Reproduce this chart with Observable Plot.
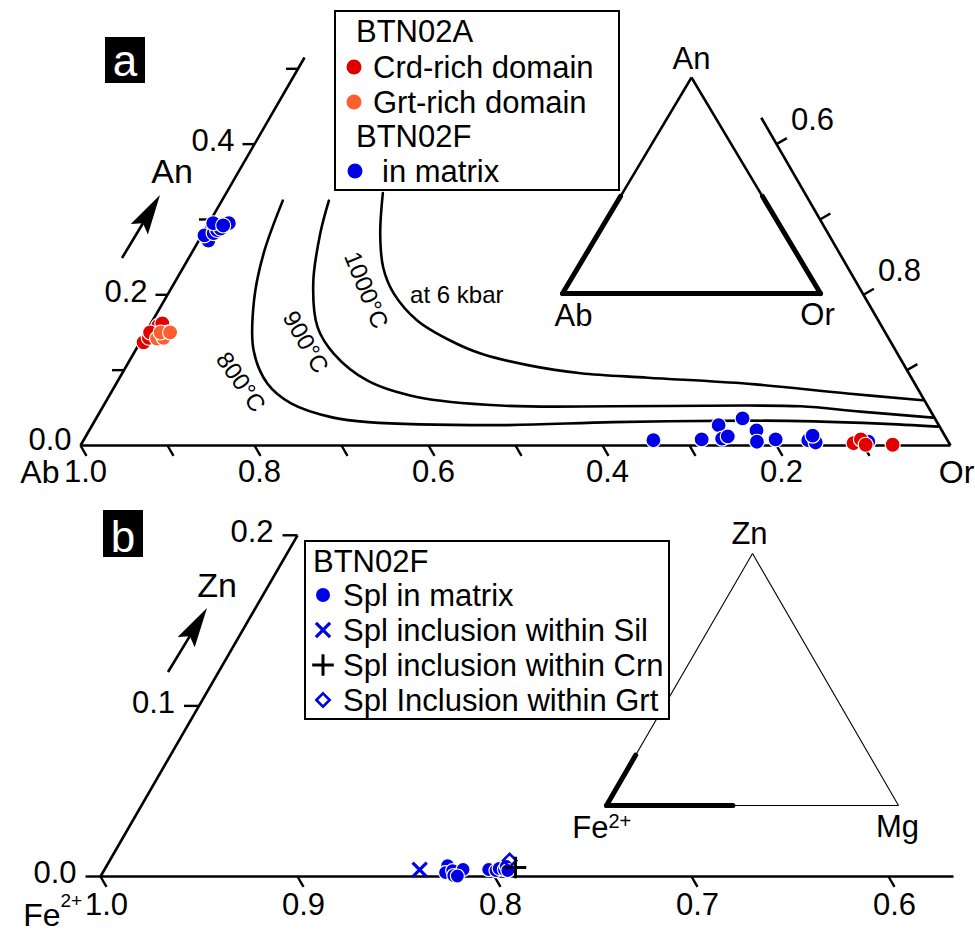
<!DOCTYPE html>
<html><head><meta charset="utf-8">
<script src="https://cdn.jsdelivr.net/npm/d3@7"></script>
<script src="https://cdn.jsdelivr.net/npm/@observablehq/plot@0.6"></script>
<style>
html,body{margin:0;padding:0;background:#fff;}
#chart{width:975px;}
#chart svg{display:block;}
</style></head><body><div id="chart"></div>
<script>
// ===================== DATA =====================
// Panel a: feldspar ternary Ab–An–Or (mole fractions An, Or; Ab = 1 - An - Or)
const crdAn = [0.137, 0.143, 0.149, 0.159, 0.162, 0.150, 0.003, 0.008, 0.001, 0.001];
const crdOr = [0.004, 0.007, 0.009, 0.010, 0.013, 0.005, 0.887, 0.893, 0.902, 0.933];
const grtAn = [0.142, 0.150, 0.143, 0.150, 0.150];
const grtOr = [0.017, 0.025, 0.024, 0.017, 0.028];
const matAn = [0.272, 0.279, 0.282, 0.286, 0.288, 0.295, 0.295, 0.292,
               0.007, 0.008, 0.027, 0.009, 0.012, 0.036, 0.020, 0.005, 0.008, 0.007, 0.004, 0.013, 0.005];
const matOr = [0.011, 0.003, 0.012, 0.014, 0.017, 0.023, 0.005, 0.018,
               0.655, 0.710, 0.720, 0.733, 0.738, 0.743, 0.767, 0.775, 0.795, 0.833, 0.843, 0.835, 0.903];

// Solvus isotherms at 6 kbar
const c800Or = [0.070, 0.083, 0.103, 0.136, 0.174, 0.214, 0.272, 0.315, 0.470, 0.597, 0.750, 0.827, 0.905, 0.973];
const c800An = [0.325, 0.255, 0.193, 0.126, 0.082, 0.056, 0.037, 0.031, 0.027, 0.031, 0.033, 0.032, 0.029, 0.025];
const c900Or = [0.123, 0.135, 0.160, 0.194, 0.230, 0.287, 0.356, 0.456, 0.587, 0.740, 0.802, 0.874, 0.961];
const c900An = [0.325, 0.281, 0.215, 0.157, 0.122, 0.086, 0.064, 0.053, 0.052, 0.053, 0.052, 0.045, 0.037];
const c1000Or = [0.180, 0.204, 0.230, 0.259, 0.304, 0.356, 0.399, 0.464, 0.527, 0.607, 0.726, 0.847, 0.938];
const c1000An = [0.335, 0.281, 0.236, 0.202, 0.166, 0.139, 0.122, 0.106, 0.096, 0.090, 0.082, 0.069, 0.060];
const isoLabels = ["800°C", "900°C", "1000°C", "at 6 kbar"];
const isoLabelOr = [0.142, 0.190, 0.225, 0.333];
const isoLabelAn = [0.084, 0.137, 0.206, 0.199];
const isoLabelRot = [55, 60, 68, 0];

// Panel a axes
const abTicks = [1.0, 0.9, 0.8, 0.7, 0.6, 0.5, 0.4, 0.3, 0.2, 0.1];
const abLabels = [1.0, 0.8, 0.6, 0.4, 0.2];
const anTicks = [0.1, 0.2, 0.3, 0.4, 0.5];
const anLabels = [0.2, 0.4];
const orTicks = [0.6, 0.7, 0.8, 0.9];
const orLabels = [0.6, 0.8];
const anAxisMax = 0.515, orAxisMinAn = 0.435;

// Panel b: spinel ternary Fe2+–Zn–Mg
const splMatZn = [0.0064, 0.0023, 0.0035, 0.0041, 0.0006, 0.0003, 0.0041, 0.0035, 0.0047, 0.0041, 0.0059, 0.0035];
const splMatMg = [0.173, 0.174, 0.177, 0.182, 0.179, 0.181, 0.195, 0.199, 0.200, 0.203, 0.203, 0.205];
const splSilZn = [0.004];
const splSilMg = [0.160];
const splCrnZn = [0.0053];
const splCrnMg = [0.208];
const splGrtZn = [0.0094];
const splGrtMg = [0.203];
const feTicks = [1.0, 0.9, 0.8, 0.7, 0.6];
const znTicks = [0.0, 0.1, 0.2];
const mgAxisMax = 0.433, znAxisMax = 0.2;

// colours
const BLUE = "#0000e6", RED = "#e00000", ORANGE = "#ff5f2e";
const FONT = "'Liberation Sans', Arial, Helvetica, sans-serif";
const FS = 31;
const fmt = d3.format(".1f");
const SQ = Math.sqrt(3) / 2;

// helpers
const lerp = (p, q, f) => ({x: p.x + (q.x - p.x) * f, y: p.y + (q.y - p.y) * f});
const seg = (p, q) => ({x1: p.x, y1: p.y, x2: q.x, y2: q.y});
function insetVerts(I) {
  return {L: {x: I.ox, y: I.oy}, R: {x: I.ox + I.sx, y: I.oy}, T: {x: I.ox + I.sx / 2, y: I.oy + I.sy}};
}

// ===================== PANEL A =====================
const A = {x0: 80, y0: 445, side: 870, h: 490};
const kxA = A.side, kyA = A.side * SQ;
const tA = (or, an) => ({x: or + an / 2, y: an});
const zipA = (ans, ors) => ans.map((an, i) => tA(ors[i], an));

const insetA = {ox: (562 - A.x0) / kxA, oy: (A.y0 - 293) / kyA, sx: 258 / kxA, sy: 216 / kyA, thick: 0.45};
const iA = insetVerts(insetA);
const iAthin = [seg(lerp(iA.L, iA.T, insetA.thick), iA.T), seg(lerp(iA.R, iA.T, insetA.thick), iA.T)];
const iAthick = [seg(iA.L, iA.R), seg(iA.L, lerp(iA.L, iA.T, insetA.thick)), seg(iA.R, lerp(iA.R, iA.T, insetA.thick))];

const edgesA = [
  {x1: 0, y1: 0, x2: 1, y2: 0},
  {x1: 0, y1: 0, x2: anAxisMax / 2, y2: anAxisMax},
  {x1: 1, y1: 0, x2: 1 - orAxisMinAn / 2, y2: orAxisMinAn}
];
const ticksA = [
  ...abTicks.map(ab => ({x1: 1 - ab, y1: 0, x2: 1 - ab + 6 / kxA, y2: -10.4 / kyA})),
  ...anTicks.map(an => ({x1: an / 2, y1: an, x2: an / 2 - 12 / kxA, y2: an})),
  ...orTicks.map(o => { const t = 1 - o; return {x1: 1 - t / 2, y1: t, x2: 1 - t / 2 + 10.4 / kxA, y2: t + 6 / kyA}; })
];
const isoA = isoLabels.map((s, i) => ({...tA(isoLabelOr[i], isoLabelAn[i]), s, r: isoLabelRot[i]}));

const plotA = Plot.plot({
  width: 975, height: A.h,
  style: {fontFamily: FONT, background: "white", overflow: "visible"},
  x: {domain: [0, 1], range: [A.x0, A.x0 + A.side], axis: null},
  y: {domain: [0, 1], range: [A.y0, A.y0 - kyA], axis: null},
  marks: [
    Plot.link(edgesA, {x1: "x1", y1: "y1", x2: "x2", y2: "y2", stroke: "black", strokeWidth: 2.6}),
    Plot.link(ticksA, {x1: "x1", y1: "y1", x2: "x2", y2: "y2", stroke: "black", strokeWidth: 2.4}),
    Plot.text(abLabels, {x: d => 1 - d, y: 0, text: d => fmt(d), dx: 5, dy: 27, fontSize: FS}),
    Plot.text(["Ab"], {x: 0, y: 0, text: d => d, dx: -21, dy: 27, textAnchor: "end", fontSize: 32}),
    Plot.text(["Or"], {x: 1, y: 0, text: d => d, dx: 6, dy: 27, fontSize: 32}),
    Plot.text([0], {x: 0, y: 0, text: d => fmt(d), dx: -9, dy: -5, textAnchor: "end", fontSize: FS}),
    Plot.text(anLabels, {x: d => d / 2, y: d => d, text: d => fmt(d), dx: -20, dy: -3, textAnchor: "end", fontSize: FS}),
    Plot.text(orLabels, {x: d => 1 - (1 - d) / 2, y: d => 1 - d, text: d => fmt(d), dx: 36, dy: -24, fontSize: FS}),
    Plot.line(zipA(c800An, c800Or), {x: "x", y: "y", curve: "catmull-rom", stroke: "black", strokeWidth: 2.6}),
    Plot.line(zipA(c900An, c900Or), {x: "x", y: "y", curve: "catmull-rom", stroke: "black", strokeWidth: 2.6}),
    Plot.line(zipA(c1000An, c1000Or), {x: "x", y: "y", curve: "catmull-rom", stroke: "black", strokeWidth: 2.6}),
    Plot.text(isoA.slice(0, 3), {x: "x", y: "y", text: "s", rotate: d => d.r, fontSize: 24}),
    Plot.text(isoA.slice(3), {x: "x", y: "y", text: "s", fontSize: 24}),
    Plot.link(iAthin, {x1: "x1", y1: "y1", x2: "x2", y2: "y2", stroke: "black", strokeWidth: 2.5}),
    Plot.link(iAthick, {x1: "x1", y1: "y1", x2: "x2", y2: "y2", stroke: "black", strokeWidth: 5, strokeLinecap: "round"}),
    Plot.text(["An"], {x: iA.T.x, y: iA.T.y, text: d => d, dy: -18, fontSize: 31}),
    Plot.text(["Ab"], {x: iA.L.x, y: iA.L.y, text: d => d, dx: 11, dy: 23, fontSize: 31}),
    Plot.text(["Or"], {x: iA.R.x, y: iA.R.y, text: d => d, dx: -3, dy: 22, fontSize: 31}),
    Plot.dot(zipA(matAn, matOr), {x: "x", y: "y", r: 7.5, fill: BLUE, stroke: "white", strokeWidth: 1.2}),
    Plot.dot(zipA(crdAn, crdOr), {x: "x", y: "y", r: 7.5, fill: RED, stroke: "white", strokeWidth: 1.2}),
    Plot.dot(zipA(grtAn, grtOr), {x: "x", y: "y", r: 7.5, fill: ORANGE, stroke: "white", strokeWidth: 1.2})
  ]
});

// ===================== PANEL B =====================
const B = {x0: 100, y0: 386, side: 1970, h: 441};
const kxB = B.side, kyB = B.side * SQ;
const tB = (mg, zn) => ({x: mg + zn / 2, y: zn});
const zipB = (zns, mgs) => zns.map((zn, i) => tB(mgs[i], zn));

const insetB = {ox: (606 - B.x0) / kxB, oy: (B.y0 - 315) / kyB, sx: 292 / kxB, sy: 252 / kyB};
const iB = insetVerts(insetB);
const fracMg = mgAxisMax, fracZn = znAxisMax; // thick parts = zoomed ranges
const iBthin = [seg(iB.L, iB.R), seg(iB.L, iB.T), seg(iB.R, iB.T)];
const iBthick = [seg(iB.L, lerp(iB.L, iB.R, fracMg)), seg(iB.L, lerp(iB.L, iB.T, fracZn))];

const edgesB = [
  {x1: 0, y1: 0, x2: mgAxisMax, y2: 0},
  {x1: 0, y1: 0, x2: znAxisMax / 2, y2: znAxisMax}
];
const ticksB = [
  ...feTicks.map(fe => ({x1: 1 - fe, y1: 0, x2: 1 - fe + 6 / kxB, y2: -10.4 / kyB})),
  ...znTicks.map(zn => ({x1: zn / 2, y1: zn, x2: zn / 2 - 15 / kxB, y2: zn}))
];

const plotB = Plot.plot({
  width: 975, height: B.h,
  style: {fontFamily: FONT, background: "white", overflow: "visible"},
  x: {domain: [0, 1], range: [B.x0, B.x0 + B.side], axis: null},
  y: {domain: [0, 1], range: [B.y0, B.y0 - kyB], axis: null},
  marks: [
    Plot.link(edgesB, {x1: "x1", y1: "y1", x2: "x2", y2: "y2", stroke: "black", strokeWidth: 2.6}),
    Plot.link(ticksB, {x1: "x1", y1: "y1", x2: "x2", y2: "y2", stroke: "black", strokeWidth: 2.4}),
    Plot.text(feTicks, {x: d => 1 - d, y: 0, text: d => fmt(d), dx: 6, dy: 29, fontSize: FS}),
    Plot.text(["Fe"], {x: 0, y: 0, text: d => d, dx: -40, dy: 39, textAnchor: "end", fontSize: 32}),
    Plot.text(["2+"], {x: 0, y: 0, text: d => d, dx: -40, dy: 24, textAnchor: "start", fontSize: 19}),
    Plot.text(znTicks, {x: d => d / 2, y: d => d, text: d => fmt(d), dx: -24, dy: -3, textAnchor: "end", fontSize: FS}),
    Plot.link(iBthin, {x1: "x1", y1: "y1", x2: "x2", y2: "y2", stroke: "black", strokeWidth: 1.1}),
    Plot.link(iBthick, {x1: "x1", y1: "y1", x2: "x2", y2: "y2", stroke: "black", strokeWidth: 5, strokeLinecap: "round"}),
    Plot.text(["Zn"], {x: iB.T.x, y: iB.T.y, text: d => d, dx: -3, dy: -19, fontSize: 31}),
    Plot.text(["Fe"], {x: iB.L.x, y: iB.L.y, text: d => d, dx: 2, dy: 23, textAnchor: "end", fontSize: 31}),
    Plot.text(["2+"], {x: iB.L.x, y: iB.L.y, text: d => d, dx: 2, dy: 16, textAnchor: "start", fontSize: 20}),
    Plot.text(["Mg"], {x: iB.R.x, y: iB.R.y, text: d => d, dx: -1, dy: 22, fontSize: 31}),
    Plot.dot(zipB(splSilZn, splSilMg), {x: "x", y: "y", symbol: "times", r: 6.5, fill: "none", stroke: BLUE, strokeWidth: 3.2}),
    Plot.dot(zipB(splMatZn, splMatMg), {x: "x", y: "y", r: 7, fill: BLUE, stroke: "white", strokeWidth: 1.2}),
    Plot.dot(zipB(splGrtZn, splGrtMg), {x: "x", y: "y", symbol: "diamond2", r: 6, fill: "none", stroke: BLUE, strokeWidth: 2.6}),
    Plot.dot(zipB(splCrnZn, splCrnMg), {x: "x", y: "y", symbol: "plus", r: 7, fill: "none", stroke: "black", strokeWidth: 3})
  ]
});

// ===================== OVERLAYS (legends, panel tags, arrows) =====================
function tag(svg, x, y, w, h, letter, base) {
  svg.append("rect").attr("x", x).attr("y", y).attr("width", w).attr("height", h).attr("fill", "black");
  svg.append("text").attr("x", x + w / 2).attr("y", base).attr("text-anchor", "middle")
    .attr("font-family", FONT).attr("font-size", 44).attr("fill", "white").text(letter);
}
function arrow(svg, x1, y1, x2, y2) {
  const L = Math.hypot(x2 - x1, y2 - y1), ux = (x2 - x1) / L, uy = (y2 - y1) / L, px = -uy, py = ux;
  const hl = 40, hw = 10, notch = 33;
  const bx = x2 - ux * hl, by = y2 - uy * hl, nx = x2 - ux * notch, ny = y2 - uy * notch;
  svg.append("line").attr("x1", x1).attr("y1", y1).attr("x2", nx).attr("y2", ny).attr("stroke", "black").attr("stroke-width", 2.6);
  svg.append("path").attr("d", `M${x2},${y2}L${bx + px * hw},${by + py * hw}L${nx},${ny}L${bx - px * hw},${by - py * hw}Z`).attr("fill", "black");
}
function txt(svg, x, y, s, size, anchor = "start") {
  return svg.append("text").attr("x", x).attr("y", y).attr("font-family", FONT).attr("font-size", size)
    .attr("text-anchor", anchor).attr("fill", "black").text(s);
}

const sa = d3.select(plotA);
tag(sa, 105, 37, 40, 46, "a", 76);
arrow(sa, 122, 258, 160, 195);
txt(sa, 172, 183, "An", 34, "middle");
sa.append("rect").attr("x", 335).attr("y", 11).attr("width", 284).attr("height", 179).attr("fill", "white").attr("stroke", "black").attr("stroke-width", 2);
txt(sa, 356, 42, "BTN02A", FS);
sa.append("circle").attr("cx", 354).attr("cy", 67).attr("r", 7.5).attr("fill", RED);
txt(sa, 373, 78, "Crd-rich domain", FS);
sa.append("circle").attr("cx", 354).attr("cy", 102).attr("r", 7.5).attr("fill", ORANGE);
txt(sa, 373, 113, "Grt-rich domain", FS);
txt(sa, 356, 147, "BTN02F", FS);
sa.append("circle").attr("cx", 355).attr("cy", 171).attr("r", 7.5).attr("fill", BLUE);
txt(sa, 382, 182, "in matrix", FS);

const sb = d3.select(plotB);
tag(sb, 103, 20, 40, 47, "b", 62);
arrow(sb, 168, 182, 207, 118);
txt(sb, 217, 107, "Zn", 34, "middle");
sb.append("rect").attr("x", 305).attr("y", 51).attr("width", 364).attr("height", 178).attr("fill", "white").attr("stroke", "black").attr("stroke-width", 2);
txt(sb, 313, 82, "BTN02F", FS);
sb.append("path").attr("transform", "translate(323,105)").attr("d", d3.symbol(d3.symbolCircle, Math.PI * 49)()).attr("fill", BLUE);
txt(sb, 343, 116, "Spl in matrix", FS);
sb.append("path").attr("transform", "translate(323,140)").attr("d", d3.symbol(d3.symbolTimes, Math.PI * 6.5 * 6.5)()).attr("fill", "none").attr("stroke", BLUE).attr("stroke-width", 3.2);
txt(sb, 343, 151, "Spl inclusion within Sil", FS);
sb.append("path").attr("transform", "translate(323,175)").attr("d", d3.symbol(d3.symbolPlus, Math.PI * 49)()).attr("fill", "none").attr("stroke", "black").attr("stroke-width", 3);
txt(sb, 343, 186, "Spl inclusion within Crn", FS);
sb.append("path").attr("transform", "translate(323,210)").attr("d", d3.symbol(d3.symbolDiamond2, Math.PI * 36)()).attr("fill", "none").attr("stroke", BLUE).attr("stroke-width", 2.6);
txt(sb, 343, 221, "Spl Inclusion within Grt", FS);

document.getElementById("chart").append(plotA, plotB);
</script>
</body></html>
